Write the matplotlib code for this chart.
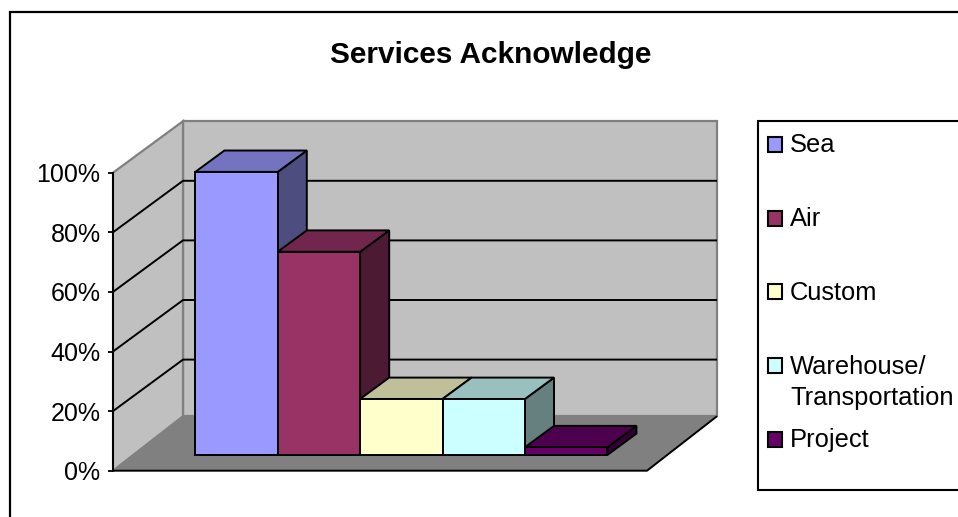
import matplotlib
matplotlib.use("Agg")
import matplotlib.pyplot as plt
from matplotlib.patches import Rectangle

plt.rcParams["font.family"] = ["Liberation Sans", "DejaVu Sans"]

title = "Services Acknowledge"
categories = ["Sea", "Air", "Custom", "Warehouse/\nTransportation", "Project"]
values = [95, 68.2, 18.8, 18.8, 2.6]
y_ticks = [0, 20, 40, 60, 80, 100]
front_colors = ["#9999FF", "#993366", "#FFFFCC", "#CCFFFF", "#660066"]
top_colors = ["#7373BF", "#73264D", "#BFBF99", "#99BFBF", "#4D004D"]
side_colors = ["#4D4D80", "#4D1A33", "#808066", "#668080", "#330033"]

W, H = 958, 517
fig = plt.figure(figsize=(W / 100, H / 100), dpi=100, facecolor="white")

# pixel-space layer for frame, title and legend
page = fig.add_axes([0, 0, 1, 1])
page.set_xlim(0, W)
page.set_ylim(H, 0)
page.axis("off")
page.add_patch(Rectangle((10, 12), W + 20, H + 20, fc="white", ec="black", lw=1.6))
page.text(491, 55, title, fontsize=21.4, fontweight="bold", ha="center", va="center")

page.add_patch(Rectangle((758, 121), W, 368.5, fc="white", ec="black", lw=1.5))
legend_y = [144, 218, 291, 365, 439]
for name, color, yy in zip(categories, front_colors, legend_y):
    page.add_patch(Rectangle((768, yy - 7), 14.5, 14.5, fc=color, ec="black", lw=1.5))
    for n, line_text in enumerate(name.split("\n")):
        page.text(790, yy - 1 + n * 32, line_text, fontsize=18.4, ha="left", va="center_baseline")

# plot axes: front plane of the 3d box
ax = fig.add_axes([113 / W, 1 - 470.7 / H, 534 / W, 298 / H])
ax.patch.set_visible(False)
ax.set_xlim(-0.74, 5.74)
ax.set_ylim(0, 100)
ax.set_xticks([])
ax.set_yticks(y_ticks)
ax.set_yticklabels([f"{t}%" for t in y_ticks], fontsize=18)
ax.tick_params(axis="y", length=3.6, width=1.3, pad=5.4)
for s in ["top", "right", "bottom"]:
    ax.spines[s].set_visible(False)
ax.spines["left"].set_linewidth(1.3)

# depth 1 = back wall, shifts 70px right and 51.5px up
DX = 70 / 82.4
DY = 51.5 / 2.98
x0, x1 = ax.get_xlim()


def proj(x, y, d):
    return x + d * DX, y + d * DY


def poly(pts, fc, z, ec="black", lw=1.4):
    xs = [p[0] for p in pts]
    ys = [p[1] for p in pts]
    ax.fill(xs, ys, fc=fc, ec=ec, lw=lw, zorder=z, clip_on=False, joinstyle="miter")


def line(pts, color, z, lw=1.4):
    xs = [p[0] for p in pts]
    ys = [p[1] for p in pts]
    ax.plot(xs, ys, color=color, lw=lw, zorder=z, clip_on=False, solid_capstyle="butt")


wall_gray = "#C0C0C0"
edge_gray = "#808080"
floor_lift = 1.0  # floor meets the walls a little above the gridline zero

# walls and floor
poly([proj(x0, floor_lift, 1), proj(x1, floor_lift, 1), proj(x1, 100, 1), proj(x0, 100, 1)],
     wall_gray, 1, ec=edge_gray, lw=1.6)
poly([proj(x0, 0, 0), proj(x0, floor_lift, 1), proj(x0, 100, 1), proj(x0, 100, 0)],
     wall_gray, 1, ec=edge_gray, lw=1.6)
poly([proj(x0, 0, 0), proj(x1, 0, 0), proj(x1, floor_lift, 1), proj(x0, floor_lift, 1)],
     edge_gray, 2, ec="none", lw=0)
line([proj(x0, 0, 0), proj(x1, 0, 0), proj(x1, floor_lift, 1)], "black", 3)
line([proj(x0, 0, 0), proj(x0, 100, 0)], "black", 3)

# gridlines on left and back walls
for t in y_ticks[1:-1]:
    line([proj(x0, t, 0), proj(x0, t, 1), proj(x1, t, 1)], "black", 3)

# bars, left to right so each one covers the side of the previous
d_front, d_back = 0.305, 0.72
z = 4
for i, v in enumerate(values):
    l, r = i, i + 1
    poly([proj(r, 0, d_front), proj(r, 0, d_back), proj(r, v, d_back), proj(r, v, d_front)],
         side_colors[i], z)
    poly([proj(l, v, d_front), proj(r, v, d_front), proj(r, v, d_back), proj(l, v, d_back)],
         top_colors[i], z + 1)
    poly([proj(l, 0, d_front), proj(r, 0, d_front), proj(r, v, d_front), proj(l, v, d_front)],
         front_colors[i], z + 2)
    z += 3

fig.savefig("out.png", dpi=100)
